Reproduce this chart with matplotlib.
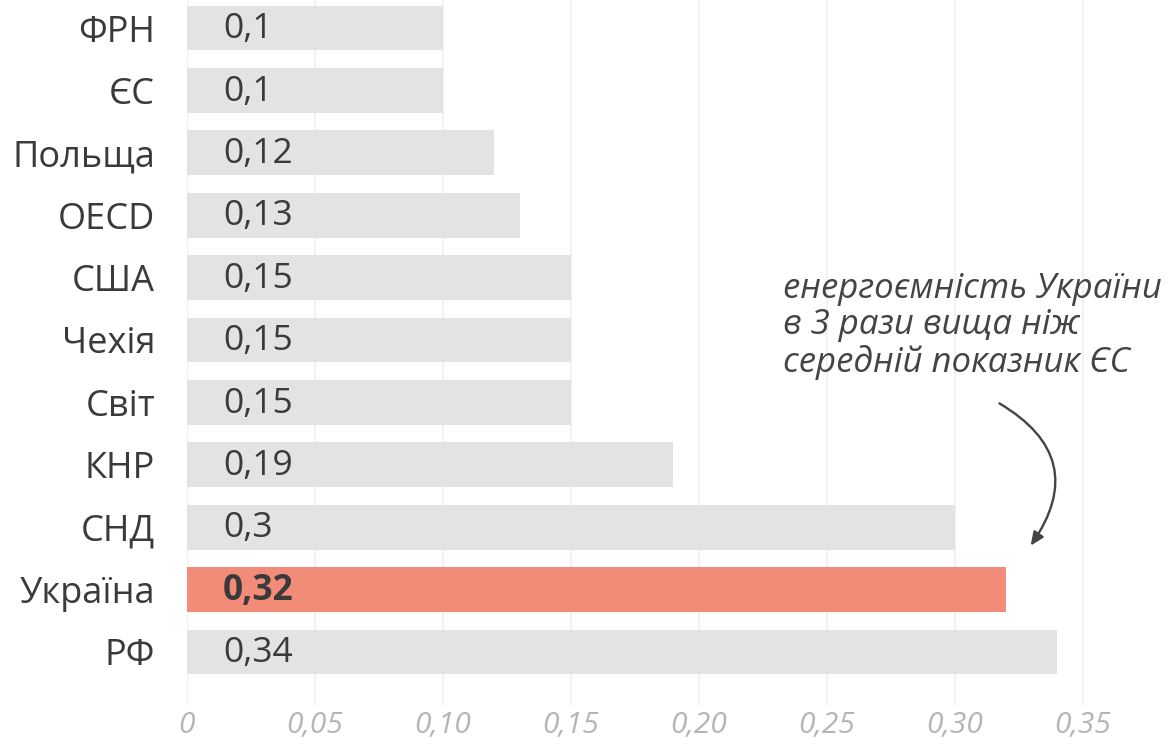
import matplotlib
matplotlib.use("Agg")
import matplotlib.pyplot as plt
import numpy as np

categories = ["ФРН", "ЄС", "Польща", "OECD", "США", "Чехія", "Світ", "КНР", "СНД", "Україна", "РФ"]
values = [0.10, 0.10, 0.12, 0.13, 0.15, 0.15, 0.15, 0.19, 0.30, 0.32, 0.34]
value_labels = ["0,1", "0,1", "0,12", "0,13", "0,15", "0,15", "0,15", "0,19", "0,3", "0,32", "0,34"]
highlight = "Україна"
xticks = [0, 0.05, 0.10, 0.15, 0.20, 0.25, 0.30, 0.35]
xtick_labels = ["0", "0,05", "0,10", "0,15", "0,20", "0,25", "0,30", "0,35"]
note = "енергоємність України\nв 3 рази вища ніж\nсередній показник ЄС"

plt.rcParams['font.family'] = ['Open Sans', 'DejaVu Sans']

W, H = 1176, 750
fig = plt.figure(figsize=(W / 100, H / 100), dpi=100)
unit = 2560.0
left_px, right_px = 187, 187 + 0.36 * unit
top_px, bot_px = 0, 705
ax = fig.add_axes([left_px / W, 1 - bot_px / H, (right_px - left_px) / W, (bot_px - top_px) / H])

y = np.arange(len(categories))
colors = ["#f28b77" if c == highlight else "#e3e3e3" for c in categories]
ax.barh(y, values, height=0.72, color=colors, zorder=2)

for i, (v, lab, c) in enumerate(zip(values, value_labels, categories)):
    ax.text(36 / unit, i + 0.02, lab, va="center", ha="left", fontsize=25.5,
            color="#3a3a3a", fontweight="bold" if c == highlight else "normal", zorder=3)

ax.set_xlim(0, 0.36)
ax.set_ylim(len(categories) - 0.15, -0.449)
ax.set_yticks(y)
ax.set_yticklabels(categories, fontsize=26, color="#3a3a3a")
ax.set_xticks(xticks)
ax.set_xticklabels(xtick_labels, fontsize=21.5, color="#b5b5b5", style="italic")
ax.tick_params(axis="y", length=0, pad=23)
ax.tick_params(axis="x", length=0, pad=4)
for s in ax.spines.values():
    s.set_visible(False)
ax.grid(axis="x", color="#efefef", linewidth=1.2, zorder=0)
ax.set_axisbelow(True)

ax.text((783 - 187) / unit, (326 - 28) / 62.4, note, ha="left", va="center",
        fontsize=25, style="italic", color="#444444", linespacing=1.1)

ax.annotate("", xy=((1029 - 187) / unit, (548 - 28) / 62.4),
            xytext=((997 - 187) / unit, (402 - 28) / 62.4),
            arrowprops=dict(arrowstyle="-|>,head_length=0.8,head_width=0.35",
                            connectionstyle="arc3,rad=-0.55", color="#444444", lw=1.7))

fig.savefig("out.png", dpi=100)
